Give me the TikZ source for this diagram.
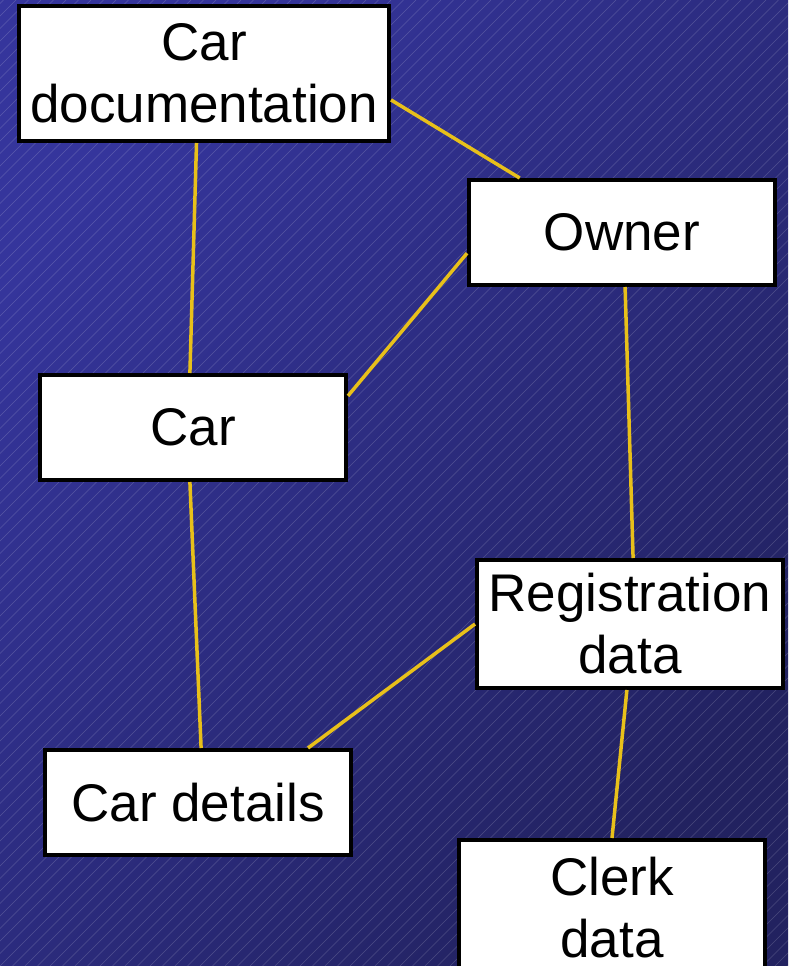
\documentclass[tikz,border=0pt]{standalone}
\usepackage{fontspec}
\setmainfont{Liberation Sans}
\usetikzlibrary{calc}
\definecolor{bgtop}{HTML}{35359C}
\definecolor{bgbot}{HTML}{222260}
\definecolor{linkcol}{HTML}{E8C01A}
\tikzset{
  entity/.style={draw=black, line width=4pt, fill=white, inner sep=0pt,
    align=center, font=\fontsize{53}{62}\selectfont,
    minimum width=306pt, minimum height=105pt},
  link/.style={draw=linkcol, line width=3.5pt},
  hatch/.style={draw=white, opacity=0.18, line width=0.5pt}
}
\begin{document}
\begin{tikzpicture}[x=1pt, y=-1pt]
  \useasboundingbox (0,0) rectangle (788,966);
  \clip (0,0) rectangle (788,966);
  % backdrop: shaded blue with fine diagonal hatching
  \shade[left color=bgtop, right color=bgbot, shading angle=50] (0,0) rectangle (788,966);
  \foreach \i in {-80,...,66} {
    \draw[hatch] (\i*12.5,966) -- (\i*12.5+966,0);
  }
  % entities
  \node[entity, minimum width=370pt, minimum height=135pt] (cardoc) at (204,73.5) {Car\\documentation};
  \node[entity] (owner) at (622,232.5) {Owner};
  \node[entity] (car) at (193,427.5) {Car};
  \node[entity, minimum height=128pt] (reg) at (630,624) {Registration\\data};
  \node[entity] (cardet) at (198,802.5) {Car details};
  \node[entity, minimum height=135pt] (clerk) at (612,907.5) {Clerk\\data};
  % relationships
  \draw[link] ($(cardoc.north east)!0.69!(cardoc.south east)$) -- ($(owner.north west)!0.17!(owner.north east)$);
  \draw[link] ($(cardoc.south west)!0.48!(cardoc.south east)$) -- ($(car.north west)!0.49!(car.north east)$);
  \draw[link] ($(owner.north west)!0.69!(owner.south west)$) -- ($(car.north east)!0.21!(car.south east)$);
  \draw[link] ($(owner.south west)!0.51!(owner.south east)$) -- ($(reg.north west)!0.51!(reg.north east)$);
  \draw[link] ($(car.south west)!0.49!(car.south east)$) -- ($(cardet.north west)!0.51!(cardet.north east)$);
  \draw[link] (reg.west) -- ($(cardet.north west)!0.855!(cardet.north east)$);
  \draw[link] ($(reg.south west)!0.49!(reg.south east)$) -- ($(clerk.north west)!0.5!(clerk.north east)$);
\end{tikzpicture}
\end{document}
